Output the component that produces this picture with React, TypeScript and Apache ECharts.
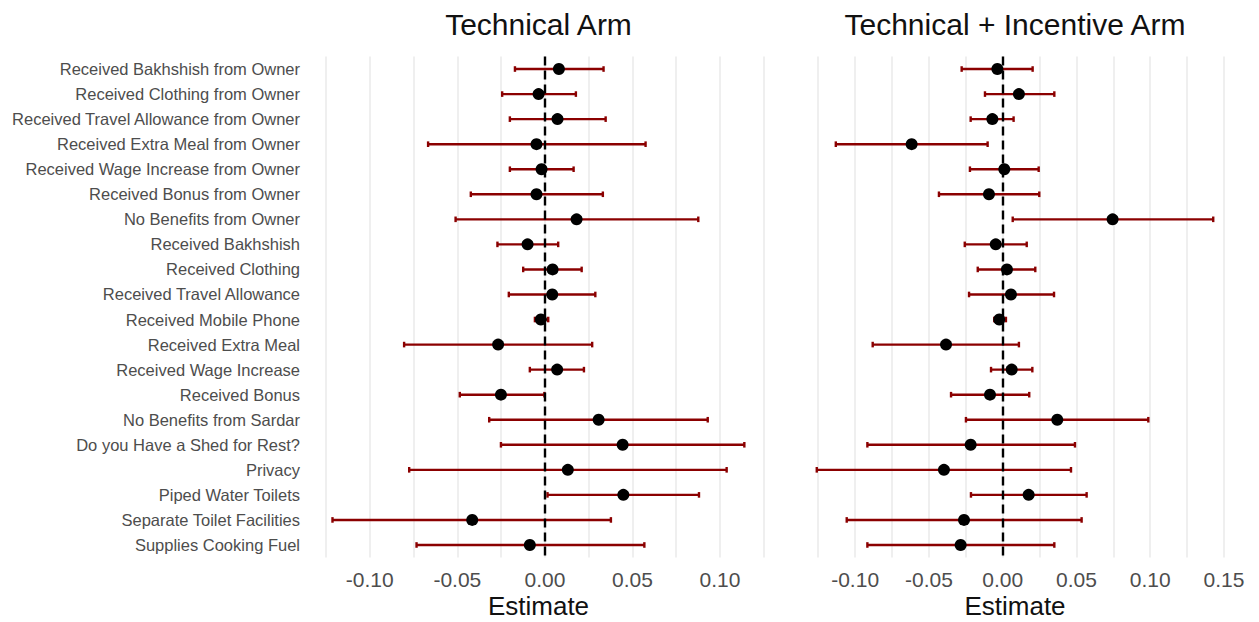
import React, { useEffect, useRef } from "react";
import * as echarts from "echarts";

const categories = [
  "Received Bakhshish from Owner",
  "Received Clothing from Owner",
  "Received Travel Allowance from Owner",
  "Received Extra Meal from Owner",
  "Received Wage Increase from Owner",
  "Received Bonus from Owner",
  "No Benefits from Owner",
  "Received Bakhshish",
  "Received Clothing",
  "Received Travel Allowance",
  "Received Mobile Phone",
  "Received Extra Meal",
  "Received Wage Increase",
  "Received Bonus",
  "No Benefits from Sardar",
  "Do you Have a Shed for Rest?",
  "Privacy",
  "Piped Water Toilets",
  "Separate Toilet Facilities",
  "Supplies Cooking Fuel",
];

const techEst = [0.008, -0.0036, 0.0072, -0.0048, -0.0019, -0.0048, 0.0181, -0.0099, 0.0044, 0.0042, -0.0023, -0.0267, 0.007, -0.0251, 0.0307, 0.0444, 0.0131, 0.0448, -0.0415, -0.0086];
const techLow = [-0.0171, -0.0244, -0.02, -0.0667, -0.02, -0.0423, -0.051, -0.0271, -0.0124, -0.0206, -0.0057, -0.0804, -0.0086, -0.0486, -0.0318, -0.0251, -0.0775, 0.0015, -0.1213, -0.0733];
const techHigh = [0.0335, 0.0177, 0.0347, 0.0575, 0.0164, 0.0331, 0.0876, 0.0076, 0.021, 0.0288, 0.0019, 0.027, 0.0223, -0.0003, 0.093, 0.1139, 0.1038, 0.088, 0.0377, 0.0568];

const incEst = [-0.0036, 0.011, -0.007, -0.0617, 0.0011, -0.0093, 0.0745, -0.0047, 0.0029, 0.0056, -0.0023, -0.0384, 0.0061, -0.0086, 0.037, -0.0217, -0.0398, 0.0176, -0.0262, -0.0285];
const incLow = [-0.0278, -0.012, -0.0217, -0.1131, -0.0222, -0.0432, 0.0068, -0.0257, -0.0169, -0.0228, -0.0057, -0.0881, -0.0079, -0.035, -0.0249, -0.0917, -0.126, -0.0215, -0.1057, -0.0917];
const incHigh = [0.0203, 0.035, 0.0074, -0.0102, 0.0244, 0.0248, 0.1427, 0.0163, 0.0221, 0.0348, 0.0022, 0.011, 0.0201, 0.018, 0.0987, 0.049, 0.0463, 0.0569, 0.0535, 0.035];

const leftTicks = [-0.1, -0.05, 0, 0.05, 0.1];
const rightTicks = [-0.1, -0.05, 0, 0.05, 0.1, 0.15];
const leftGrid = [-0.125, -0.1, -0.075, -0.05, -0.025, 0, 0.025, 0.05, 0.075, 0.1, 0.125];
const rightGrid = [-0.125, -0.1, -0.075, -0.05, -0.025, 0, 0.025, 0.05, 0.075, 0.1, 0.125, 0.15];

const panelTitles = ["Technical Arm", "Technical + Incentive Arm"];
const FONT = "Liberation Sans, Arial, sans-serif";
const BAR = "#8B0000";

function errorSeries(low: number[], high: number[], idx: number) {
  return {
    type: "custom",
    xAxisIndex: idx,
    yAxisIndex: idx,
    z: 2,
    silent: true,
    encode: { x: [0, 1], y: 2 },
    data: low.map((l, i) => [l, high[i], i]),
    renderItem: (params: any, api: any) => {
      const a = api.coord([api.value(0), api.value(2)]);
      const b = api.coord([api.value(1), api.value(2)]);
      const h = 2.8;
      const st = { stroke: BAR, lineWidth: 2.4 };
      return {
        type: "group",
        children: [
          { type: "line", shape: { x1: a[0], y1: a[1], x2: b[0], y2: b[1] }, style: st },
          { type: "line", shape: { x1: a[0], y1: a[1] - h, x2: a[0], y2: a[1] + h }, style: st },
          { type: "line", shape: { x1: b[0], y1: b[1] - h, x2: b[0], y2: b[1] + h }, style: st },
        ],
      };
    },
  };
}

function zeroLine(idx: number) {
  return {
    type: "scatter",
    xAxisIndex: idx,
    yAxisIndex: idx,
    data: [],
    silent: true,
    markLine: {
      silent: true,
      symbol: "none",
      z: 5,
      label: { show: false },
      lineStyle: { color: "#000", type: [9, 5], width: 2.4, opacity: 1 },
      data: [{ xAxis: 0 }],
    },
  };
}

function points(est: number[], idx: number) {
  return {
    type: "scatter",
    xAxisIndex: idx,
    yAxisIndex: idx,
    z: 10,
    silent: true,
    symbol: "circle",
    symbolSize: 12,
    itemStyle: { color: "#000", opacity: 1 },
    data: est.map((v, i) => [v, i]),
  };
}

function xAxis(idx: number, min: number, max: number, ticks: number[], grid: number[]) {
  return {
    type: "value",
    gridIndex: idx,
    min,
    max,
    axisLine: { show: false },
    axisTick: { show: false, customValues: grid },
    splitLine: { show: true, lineStyle: { color: "#ebebeb", width: 1.6 } },
    axisLabel: {
      customValues: ticks,
      hideOverlap: false,
      formatter: (v: number) => v.toFixed(2),
      fontSize: 21,
      color: "#4d4d4d",
      fontFamily: FONT,
      margin: 11,
    },
  };
}

function yAxis(idx: number, showLabels: boolean) {
  return {
    type: "category",
    gridIndex: idx,
    inverse: true,
    data: categories,
    axisLine: { show: false },
    axisTick: { show: false },
    splitLine: { show: false },
    axisLabel: {
      show: showLabels,
      interval: 0,
      fontSize: 16.5,
      color: "#4d4d4d",
      fontFamily: FONT,
      margin: 12,
    },
  };
}

export default function App() {
  const ref = useRef<HTMLDivElement>(null);
  useEffect(() => {
    if (!ref.current) return;
    const chart = echarts.init(ref.current, null, { renderer: "svg" });
    chart.setOption({
      animation: false,
      backgroundColor: "#ffffff",
      grid: [
        { left: 312, width: 453, top: 56.5, height: 501 },
        { left: 797, width: 436, top: 56.5, height: 501 },
      ],
      xAxis: [
        xAxis(0, -0.133, 0.1257, leftTicks, leftGrid),
        xAxis(1, -0.1394, 0.1561, rightTicks, rightGrid),
      ],
      yAxis: [yAxis(0, true), yAxis(1, false)],
      series: [
        errorSeries(techLow, techHigh, 0),
        errorSeries(incLow, incHigh, 1),
        zeroLine(0),
        zeroLine(1),
        points(techEst, 0),
        points(incEst, 1),
      ],
      graphic: [
        { type: "text", x: 538.5, y: 24, style: { text: panelTitles[0], fontSize: 30, fontFamily: FONT, fill: "#111", textAlign: "center", textVerticalAlign: "middle" } },
        { type: "text", x: 1015, y: 24, style: { text: panelTitles[1], fontSize: 30, fontFamily: FONT, fill: "#111", textAlign: "center", textVerticalAlign: "middle" } },
        { type: "text", x: 538.5, y: 606, style: { text: "Estimate", fontSize: 26, fontFamily: FONT, fill: "#111", textAlign: "center", textVerticalAlign: "middle" } },
        { type: "text", x: 1015, y: 606, style: { text: "Estimate", fontSize: 26, fontFamily: FONT, fill: "#111", textAlign: "center", textVerticalAlign: "middle" } },
      ],
    });
    return () => chart.dispose();
  }, []);
  return (
    <div
      ref={ref}
      style={{ position: "fixed", left: 0, top: 0, width: 1259, height: 622, background: "#fff" }}
    />
  );
}
